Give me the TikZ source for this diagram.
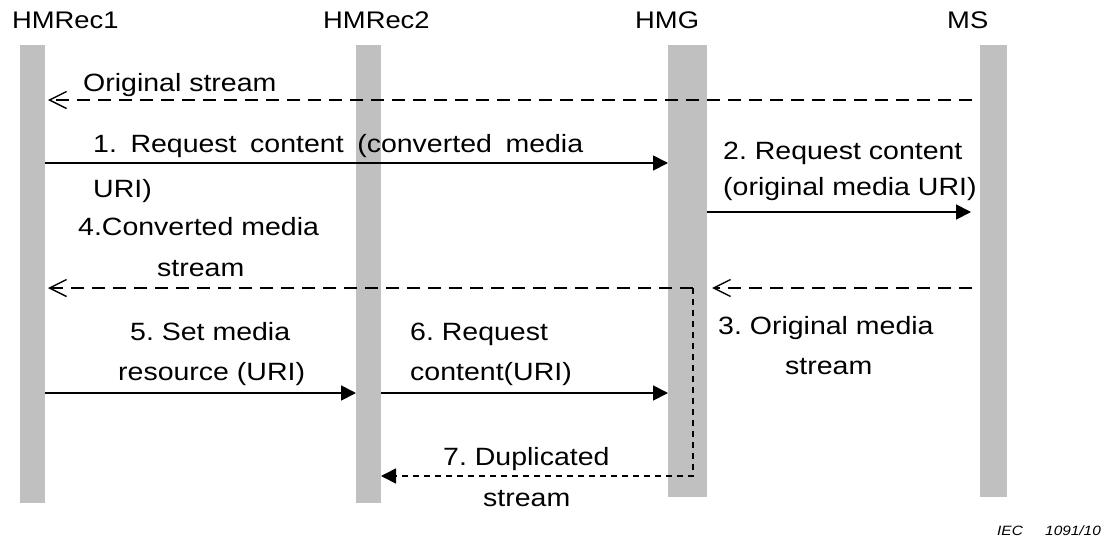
\documentclass[tikz,border=0pt]{standalone}
\usepackage{fontspec}
\setmainfont{Liberation Sans}[FakeStretch=1.14]
\usetikzlibrary{arrows.meta}
\begin{document}
\frenchspacing
\begin{tikzpicture}[x=1pt,y=-1pt,
  bar/.style={fill=barcol,draw=none,inner sep=0pt,anchor=north west},
  head/.style={anchor=base west,inner sep=0pt,font=\fontsize{24}{28}\selectfont},
  lbl/.style={anchor=base west,inner sep=0pt,font=\fontsize{25}{29}\selectfont},
  msg/.style={line width=1.8pt,-{Triangle[length=15pt,width=15pt]}},
  ret/.style={line width=1.6pt,dash pattern=on 13pt off 8pt,-{Straight Barb[length=17pt,width=17pt,line width=1.4pt]}},
  dup/.style={line width=1.6pt,dash pattern=on 6pt off 5pt,-{Triangle[length=15pt,width=15pt]}}]
\definecolor{barcol}{RGB}{192,192,192}
\useasboundingbox (0,0) rectangle (1107,541);
% lifeline bars
\node[bar,minimum width=25pt,minimum height=458pt] (r1) at (20,45) {};
\node[bar,minimum width=25pt,minimum height=458pt] (r2) at (356,45) {};
\node[bar,minimum width=39pt,minimum height=452pt] (g) at (668,45) {};
\node[bar,minimum width=27pt,minimum height=452pt] (ms) at (980,45) {};
% headers
\node[head] (h1) at (12,28) {HMRec1};
\node[head] (h2) at (323,28) {HMRec2};
\node[head] (h3) at (635,28) {HMG};
\node[head] (h4) at (947,28) {MS};
% message end points
\coordinate (o0) at (972,100);   \coordinate (o1) at (48,100);
\coordinate (a0) at (45,163);    \coordinate (a1) at (668,163);
\coordinate (b0) at (707,212);   \coordinate (b1) at (971,212);
\coordinate (c0) at (972,288);   \coordinate (c1) at (712,288);
\coordinate (d0) at (693,288);   \coordinate (d1) at (48,288);
\coordinate (e0) at (45,393);    \coordinate (e1) at (356,393);
\coordinate (f0) at (381,393);   \coordinate (f1) at (668,393);
\coordinate (k0) at (693,476);   \coordinate (k1) at (381,476);
% messages
\draw[ret] (o0) -- (o1);
\draw[msg] (a0) -- (a1);
\draw[msg] (b0) -- (b1);
\draw[ret] (c0) -- (c1);
\draw[ret] (d0) -- (d1);
\draw[msg] (e0) -- (e1);
\draw[msg] (f0) -- (f1);
\draw[dup] (d0) -- (k0) -- (k1);
% labels
\node[lbl] (lo) at (83,91) {Original stream};
\node[lbl] (l1a) at (93,152) {\makebox[490pt][s]{1. Request content (converted media}};
\node[lbl] (l1b) at (93,197) {URI)};
\node[lbl] (l2a) at (723,159) {2. Request content};
\node[lbl] (l2b) at (723,195) {(original media URI)};
\node[lbl] (l4a) at (78,235) {4.Converted media};
\node[lbl] (l4b) at (157,276) {stream};
\node[lbl] (l3a) at (718,334) {3. Original media};
\node[lbl] (l3b) at (785,374) {stream};
\node[lbl] (l5a) at (130,340) {5. Set media};
\node[lbl] (l5b) at (118,380) {resource (URI)};
\node[lbl] (l6a) at (410,340) {6. Request};
\node[lbl] (l6b) at (410,380) {content(URI)};
\node[lbl] (l7a) at (443,465) {7. Duplicated};
\node[lbl] (l7b) at (483,506) {stream};
\node[anchor=base west,inner sep=0pt,font=\fontsize{13.5}{16}\selectfont\itshape] (iec) at (997,535) {IEC};
\node[anchor=base west,inner sep=0pt,font=\fontsize{13.5}{16}\selectfont\itshape] (num) at (1045,535) {1091/10};
\end{tikzpicture}
\end{document}
